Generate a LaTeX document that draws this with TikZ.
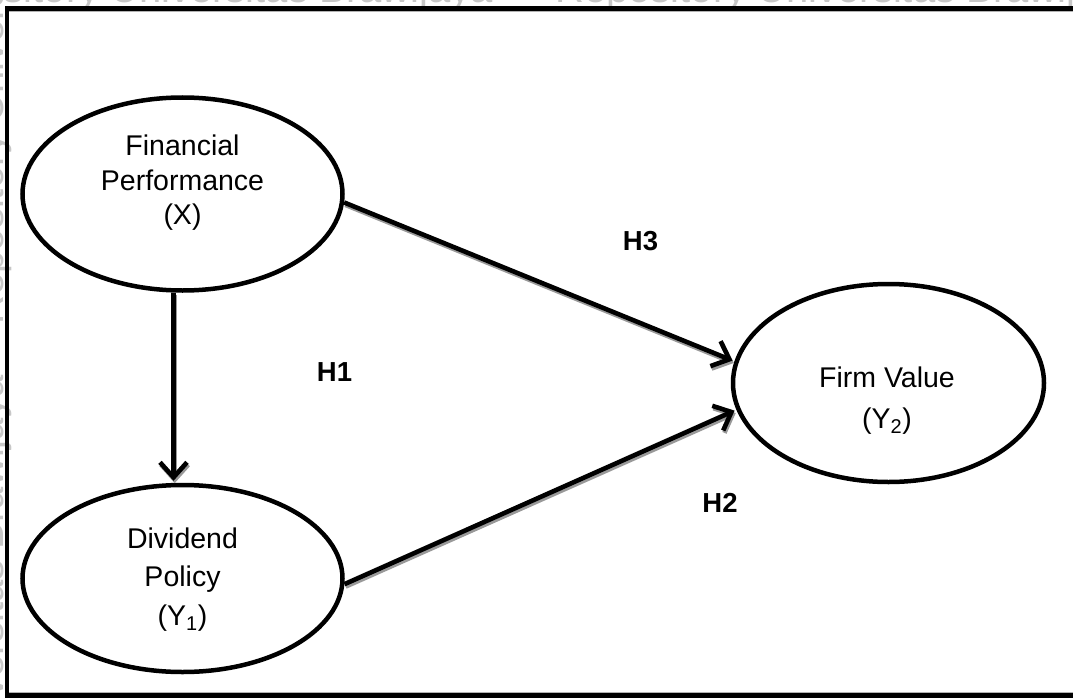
\documentclass[tikz,border=0pt]{standalone}
\usepackage{fontspec}
\setmainfont{Liberation Sans}
\usetikzlibrary{shapes.geometric,arrows.meta}
\begin{document}
\begin{tikzpicture}[x=1pt,y=-1pt,
  construct/.style={ellipse,draw,line width=4.5pt,inner sep=0pt},
  caption/.style={anchor=base,inner sep=0pt,font=\fontsize{28.5}{35}\selectfont},
  hyp/.style={inner sep=0pt,font=\bfseries\fontsize{27.5}{32}\selectfont},
  link/.style={line width=4.6pt,shorten >=2pt,-{Straight Barb[length=15pt,width=27pt]}},
  linkshade/.style={link,draw=black!40,transform canvas={shift={(1.2pt,-2.4pt)}}},
  watermark/.style={text=black!22,inner sep=0pt,font=\fontsize{40}{44}\selectfont}
]
\useasboundingbox (0,0) rectangle (1073,698);
\fill[white] (0,0) rectangle (1073,698);

% faint repository watermark, running off the page edges
\node[watermark,anchor=base west] (wm1) at (-92,3) {Repository Universitas Brawijaya};
\node[watermark,anchor=base west] (wm2) at (555,3) {Repository Universitas Brawijaya};
\node[watermark,rotate=90,anchor=base] (wm3) at (3,350)
  {Repository Universitas Brawijaya \quad Repository Universitas Brawijaya};

% frame
\draw[black!30,line width=1pt] (9,11.6) -- (1080,11.6);
\draw[black!30,line width=1pt] (9,692.4) -- (1080,692.4);
\draw[line width=4.5pt] (1080,8.5) -- (7,8.5) -- (7,695.5) -- (1080,695.5);

% constructs
\node[construct,minimum width=320pt,minimum height=193pt] (fp) at (182.5,194) {};
\node[construct,minimum width=320pt,minimum height=187pt] (dp) at (182.5,578.5) {};
\node[construct,minimum width=311pt,minimum height=198pt] (fv) at (888.5,383) {};

\node[caption] (fpt) at (182.5,155)
  {\begin{tabular}[t]{@{}c@{}}Financial\\Performance\\(X)\end{tabular}};
\node[caption,font=\fontsize{28.5}{38.5}\selectfont] (dpt) at (182.5,548)
  {\begin{tabular}[t]{@{}c@{}}Dividend\\Policy\\(Y\textsubscript{1})\end{tabular}};
\node[caption,font=\fontsize{28.5}{41}\selectfont] (fvt) at (887,387)
  {\begin{tabular}[t]{@{}c@{}}Firm Value\\(Y\textsubscript{2})\end{tabular}};

% hypothesis labels
\node[hyp] (h3) at (640.5,241.5) {H3};
\node[hyp] (h1) at (334.5,372) {H1};
\node[hyp] (h2) at (720,503) {H2};

% paths with soft drop shadow
\draw[linkshade] ([xshift=-9pt]fp.south) -- ([xshift=-9pt]dp.north);
\draw[link] ([xshift=-9pt]fp.south) -- ([xshift=-9pt]dp.north);
\draw[linkshade] (fp.-3) -- (fv.172.5);
\draw[link] (fp.-3) -- (fv.172.5);
\draw[linkshade] (dp.-2) -- (fv.190.8);
\draw[link] (dp.-2) -- (fv.190.8);
\end{tikzpicture}
\end{document}
